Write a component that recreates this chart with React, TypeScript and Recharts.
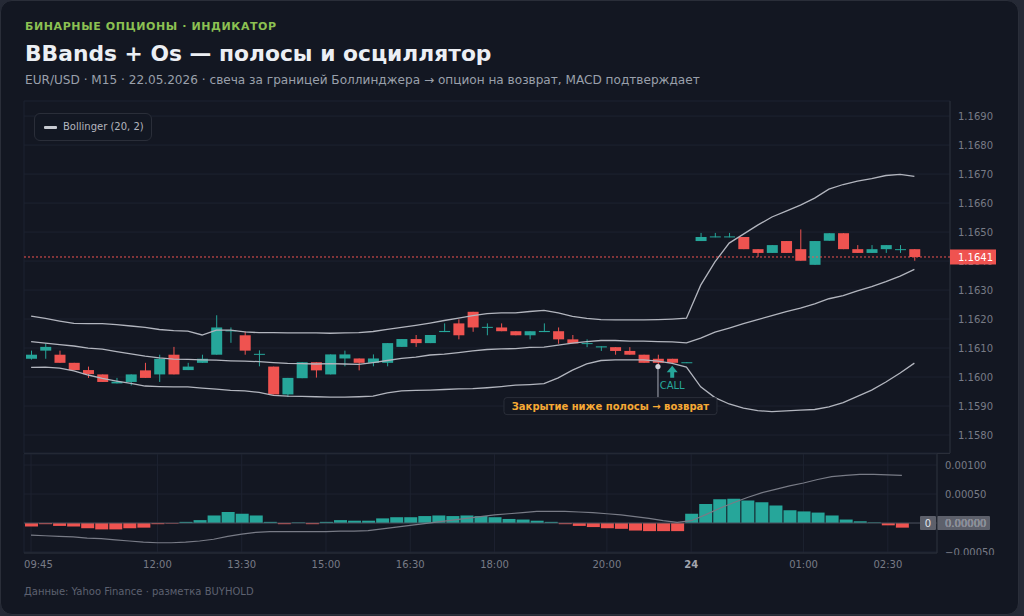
import {
  ComposedChart,
  Bar,
  Line,
  XAxis,
  YAxis,
  CartesianGrid,
  ReferenceLine,
  ReferenceDot,
  Cell,
} from "recharts";

const FONT = "'DejaVu Sans', sans-serif";
const UP = "#26a69a";
const DOWN = "#ef5350";
const GRID = "#1d2230";
const BORDER = "#2a2e39";
const AXIS = "#787b86";
const BAND = "#b2b5be";

// time axis (bar index -> label)
const tickIdx = [0, 9, 15, 21, 27, 33, 41, 47, 55, 61];
const tickLabels = ["09:45", "12:00", "13:30", "15:00", "16:30", "18:00", "20:00", "24", "01:00", "02:30"];

// EUR/USD M15 candles
const open = [
  1.16063, 1.16091, 1.16077, 1.16049, 1.16024, 1.16009, 1.15978, 1.15983, 1.16023, 1.16009,
  1.16077, 1.16024, 1.16049, 1.16077, 1.16158, 1.16144, 1.16078, 1.16036, 1.1594, 1.15996,
  1.16051, 1.16009, 1.16064, 1.16064, 1.16049, 1.16049, 1.16104, 1.16131, 1.16117, 1.16155,
  1.16185, 1.16225, 1.1617, 1.16171, 1.16158, 1.16144, 1.16155, 1.16158, 1.1613, 1.16115,
  1.16102, 1.16103, 1.1609, 1.16077, 1.16063, 1.16063, 1.16048, 1.16469, 1.16482, 1.16482,
  1.16483, 1.16441, 1.16428, 1.16469, 1.16441, 1.16387, 1.1647, 1.16496, 1.16441, 1.16428,
  1.16441, 1.1644, 1.16441,
];
const high = [
  1.16091, 1.16116, 1.16091, 1.16049, 1.16036, 1.16009, 1.15997, 1.16009, 1.16049, 1.16077,
  1.16104, 1.16049, 1.16077, 1.16213, 1.16171, 1.16158, 1.16092, 1.16036, 1.15997, 1.16051,
  1.16051, 1.16078, 1.16091, 1.16064, 1.16078, 1.16117, 1.16131, 1.16145, 1.16145, 1.16185,
  1.16199, 1.16225, 1.16185, 1.16185, 1.16158, 1.16158, 1.16185, 1.16171, 1.16145, 1.1613,
  1.16106, 1.16103, 1.16103, 1.16077, 1.16077, 1.16063, 1.16051, 1.16497, 1.16497, 1.16497,
  1.16483, 1.16441, 1.16455, 1.16469, 1.16509, 1.16469, 1.16496, 1.16496, 1.16455, 1.16455,
  1.16455, 1.16455, 1.16441,
];
const low = [
  1.1606, 1.16063, 1.16049, 1.16024, 1.15997, 1.15983, 1.15978, 1.15971, 1.15997, 1.15983,
  1.16009, 1.16024, 1.16049, 1.16077, 1.16118, 1.16077, 1.16037, 1.1594, 1.15931, 1.15996,
  1.15998, 1.16009, 1.16037, 1.16023, 1.16037, 1.16037, 1.16104, 1.16104, 1.16117, 1.16155,
  1.1613, 1.16156, 1.16144, 1.16158, 1.16144, 1.1613, 1.16155, 1.16115, 1.16116, 1.16103,
  1.1609, 1.16077, 1.16077, 1.16049, 1.16036, 1.16049, 1.16048, 1.16469, 1.16482, 1.16482,
  1.16441, 1.16414, 1.16428, 1.16428, 1.16401, 1.16387, 1.1647, 1.16441, 1.16428, 1.16428,
  1.16428, 1.16428, 1.16401,
];
const close = [
  1.16077, 1.16104, 1.16049, 1.16024, 1.1601, 1.15983, 1.15984, 1.16009, 1.15997, 1.16063,
  1.16009, 1.16036, 1.16063, 1.16171, 1.16161, 1.16091, 1.1608, 1.1594, 1.15997, 1.16051,
  1.16023, 1.16078, 1.16078, 1.16049, 1.16064, 1.16117, 1.16131, 1.16117, 1.16145, 1.16159,
  1.16144, 1.16171, 1.16173, 1.16158, 1.16144, 1.16158, 1.16159, 1.1613, 1.16116, 1.16117,
  1.16106, 1.1609, 1.16077, 1.16049, 1.16049, 1.16049, 1.16051, 1.16483, 1.16485, 1.16485,
  1.16441, 1.16428, 1.16455, 1.16428, 1.16401, 1.16469, 1.16496, 1.16441, 1.16428, 1.16441,
  1.16455, 1.16441, 1.16414,
];

// Bollinger (20, 2)
const bbUpper = [
  1.1621, 1.16202, 1.16193, 1.16185, 1.16184, 1.16184, 1.16181, 1.16176, 1.16171, 1.16164,
  1.1616, 1.16158, 1.16145, 1.16162, 1.16162, 1.16156, 1.16153, 1.16153, 1.16152, 1.16152,
  1.16152, 1.16151, 1.16152, 1.16153, 1.16157, 1.16164, 1.16171, 1.16178, 1.16186, 1.16195,
  1.16203, 1.16212, 1.16219, 1.16221, 1.16221, 1.16226, 1.1623, 1.16221, 1.16209, 1.16202,
  1.16198, 1.16197, 1.16197, 1.16197, 1.16198, 1.162, 1.16203, 1.16317, 1.16397, 1.16462,
  1.16493, 1.16524, 1.16552, 1.16572, 1.16593, 1.16617, 1.16648, 1.16664, 1.16676, 1.16684,
  1.16695, 1.16699, 1.16692,
];
const bbMid = [
  1.16122, 1.16117, 1.16112, 1.16107, 1.161, 1.16096, 1.16088, 1.1608, 1.16072, 1.16066,
  1.16062, 1.16061, 1.16059, 1.16058, 1.16056, 1.16055, 1.16053, 1.1605, 1.16047, 1.16046,
  1.16045, 1.16046, 1.16045, 1.16044, 1.1605, 1.16057, 1.16064, 1.16069, 1.16076, 1.16079,
  1.16084, 1.1609, 1.16095, 1.16097, 1.16098, 1.16102, 1.16103, 1.1611, 1.16117, 1.16122,
  1.16126, 1.16126, 1.16124, 1.16124, 1.16122, 1.16121, 1.16118, 1.16134, 1.16155, 1.16169,
  1.16184, 1.16198, 1.16212, 1.16226, 1.16238, 1.16252, 1.1627, 1.16281, 1.16297, 1.16312,
  1.16329, 1.16348, 1.16371,
];
const bbLower = [
  1.16033, 1.16034, 1.16031, 1.16021, 1.16007, 1.15995, 1.15986, 1.15978, 1.15969, 1.15967,
  1.15966, 1.15966, 1.15962, 1.15958, 1.15954, 1.15952, 1.15947, 1.15937, 1.15934, 1.15933,
  1.15932, 1.15931, 1.15931, 1.15932, 1.15934, 1.15945, 1.15952, 1.15954, 1.15955, 1.15957,
  1.15959, 1.1596, 1.15963, 1.15967, 1.15972, 1.15974, 1.15977, 1.15997, 1.16024, 1.16045,
  1.16057, 1.16059, 1.16059, 1.16059, 1.16055, 1.16047, 1.16034, 1.15966, 1.15929, 1.15907,
  1.15893, 1.15884, 1.15881, 1.15883, 1.15886, 1.15888, 1.15897, 1.15912, 1.15933, 1.15955,
  1.15983, 1.16014, 1.16048,
];

// MACD histogram and line
const macdHist = [
  -0.00006, -0.00002, -0.00005, -0.00006, -0.00009, -0.00011, -0.00011, -0.00009, -0.00008, -0.00002,
  -0.00001, 0.00002, 0.00005, 0.00013, 0.00019, 0.00016, 0.00013, 0.00002, -0.00002, 0.00001,
  -0.00002, 0.00002, 0.00005, 0.00004, 0.00004, 0.00008, 0.0001, 0.0001, 0.00012, 0.00013,
  0.00012, 0.00013, 0.00012, 0.0001, 0.00007, 0.00006, 0.00004, 0.00002, -0.00002, -0.00005,
  -0.00007, -0.00009, -0.0001, -0.00013, -0.00014, -0.00014, -0.00014, 0.00016, 0.00033, 0.00041,
  0.00042, 0.00039, 0.00036, 0.0003, 0.00022, 0.0002, 0.00018, 0.00013, 0.00006, 0.00003,
  0.00001, -0.00004, -0.00008,
];
const macdLine = [
  -0.00021, -0.00022, -0.00023, -0.00024, -0.00026, -0.00027, -0.00029, -0.00031, -0.00033, -0.00034,
  -0.00034, -0.00033, -0.00031, -0.00028, -0.00023, -0.00019, -0.00016, -0.00015, -0.00015, -0.00015,
  -0.00015, -0.00015, -0.00014, -0.00014, -0.00013, -0.0001, -0.00007, -0.00004, -0.00001, 0.00002,
  0.00005, 0.00008, 0.00011, 0.00014, 0.00016, 0.00018, 0.0002, 0.0002, 0.0002, 0.00019,
  0.00018, 0.00016, 0.00014, 0.00011, 0.00008, 0.00004, 0.00001, 0.00004, 0.00014, 0.00025,
  0.00035, 0.00044, 0.00052, 0.00058, 0.00064, 0.00069, 0.00075, 0.0008, 0.00082, 0.00084,
  0.00084, 0.00083, 0.00082,
];

const priceTicks = [1.158, 1.159, 1.16, 1.161, 1.162, 1.163, 1.164, 1.165, 1.166, 1.167, 1.168, 1.169];
const priceDomain = [1.15738, 1.16952];
const macdTicks = [-0.0005, 0, 0.0005, 0.001];

const signalIdx = 44; // close below the band
const callIdx = 45;
const emptySlots = 2; // right padding of the time scale
const lastClose = close[close.length - 1];

const rows = Array.from({ length: open.length + emptySlots }, (_, i) =>
  i < open.length
    ? {
        i,
        range: [low[i], high[i]],
        o: open[i],
        h: high[i],
        l: low[i],
        c: close[i],
        upper: bbUpper[i],
        mid: bbMid[i],
        lower: bbLower[i],
        hist: macdHist[i],
        macd: macdLine[i],
      }
    : { i }
);

const mainMargin = { top: 10, right: 0, bottom: 8, left: 23 };

function Candle(props: any) {
  const { x, y, width, height, payload } = props;
  if (payload == null || payload.o == null) return null;
  const { o, h, l, c } = payload;
  const k = h > l ? height / (h - l) : 0;
  const py = (v: number) => y + (h - v) * k;
  const color = c >= o ? UP : DOWN;
  const top = py(Math.max(o, c));
  const bot = py(Math.min(o, c));
  const cx = x + width / 2;
  return (
    <g>
      <line x1={cx} x2={cx} y1={y} y2={y + height} stroke={color} strokeWidth={1} />
      <rect x={x} y={top} width={width} height={Math.max(1, bot - top)} fill={color} />
    </g>
  );
}

function PriceTag(props: any) {
  const vb = props.viewBox;
  if (!vb) return null;
  const x = vb.x + vb.width;
  return (
    <g>
      <rect x={x} y={vb.y - 7.5} width={46} height={15} fill={DOWN} />
      <text x={x + 8} y={vb.y} dy="0.36em" fill="#ffffff" fontSize={10} fontFamily={FONT}>
        {lastClose.toFixed(4)}
      </text>
    </g>
  );
}

function SignalMark(props: any) {
  const { cx, cy } = props;
  return (
    <g>
      <line x1={cx} x2={cx} y1={cy} y2={cy + 31} stroke={AXIS} strokeWidth={1.5} />
      <circle cx={cx} cy={cy} r={2.6} fill="#d1d4dc" />
      <rect x={cx - 154} y={cy + 31} width={213} height={17} rx={3} fill="#131722" stroke={BORDER} />
      <text
        x={cx - 47.5}
        y={cy + 39.5}
        dy="0.36em"
        textAnchor="middle"
        fill="#f6a935"
        fontSize={10}
        fontWeight={700}
        fontFamily={FONT}
      >
        Закрытие ниже полосы → возврат
      </text>
    </g>
  );
}

function CallArrow(props: any) {
  const { cx, cy } = props;
  return (
    <g>
      <path
        d={`M${cx},${cy + 3} L${cx + 5.5},${cy + 9.5} L${cx + 2},${cy + 9.5} L${cx + 2},${cy + 15} L${cx - 2},${cy + 15} L${cx - 2},${cy + 9.5} L${cx - 5.5},${cy + 9.5} Z`}
        fill={UP}
      />
      <text x={cx} y={cy + 22.5} dy="0.36em" textAnchor="middle" fill={UP} fontSize={10} fontFamily={FONT}>
        CALL
      </text>
    </g>
  );
}

function TimeTick(props: any) {
  const { x, y, payload } = props;
  const k = tickIdx.indexOf(payload.value);
  const label = tickLabels[k];
  const first = k === 0;
  const bold = label === "24";
  return (
    <text
      x={first ? x - 7 : x}
      y={y}
      dy="0.71em"
      textAnchor={first ? "start" : "middle"}
      fill={bold ? "#a3a6af" : AXIS}
      fontWeight={bold ? 700 : 400}
      fontSize={10}
      fontFamily={FONT}
    >
      {label}
    </text>
  );
}

function fmtMacd(v: number) {
  return (v < 0 ? "\u2212" : "") + Math.abs(v).toFixed(5);
}

function MacdTick(props: any) {
  const { x, y, payload } = props;
  const text = (
    <text x={x} y={y} dy="0.36em" fill={AXIS} fontSize={10} fontFamily={FONT}>
      {fmtMacd(payload.value)}
    </text>
  );
  if (payload.value >= 0) return text;
  return (
    <g>
      <defs>
        <clipPath id="macdNegClip">
          <rect x={x - 4} y={y - 12} width={90} height={15} />
        </clipPath>
      </defs>
      <g clipPath="url(#macdNegClip)">{text}</g>
    </g>
  );
}

function ZeroTag(props: any) {
  const vb = props.viewBox;
  if (!vb) return null;
  const right = vb.x + vb.width;
  return (
    <g fontFamily={FONT} fontSize={10}>
      <rect x={right - 17} y={vb.y - 7} width={16} height={14} rx={1} fill="#5d606b" />
      <text x={right - 9} y={vb.y} dy="0.36em" textAnchor="middle" fill="#e0e3eb">
        0
      </text>
      <rect x={right} y={vb.y - 7} width={53} height={14} rx={1} fill="#5d606b" />
      <text x={right + 8} y={vb.y} dy="0.36em" fill="#e0e3eb">
        {fmtMacd(0)}
      </text>
    </g>
  );
}

export default function App() {
  return (
    <div
      style={{
        position: "absolute",
        left: 0,
        top: 0,
        width: 1024,
        height: 616,
        background: "#252935",
        fontFamily: FONT,
      }}
    >
      <div
        style={{
          position: "absolute",
          left: 0,
          top: 0,
          width: 1017,
          height: 613,
          background: "#131722",
          border: `1px solid ${BORDER}`,
          borderRadius: 12,
          overflow: "hidden",
        }}
      >
        <div
          style={{
            position: "absolute",
            left: 24,
            top: 19,
            fontSize: 11,
            lineHeight: "14px",
            fontWeight: 700,
            letterSpacing: 0.6,
            color: "#8cc152",
          }}
        >
          БИНАРНЫЕ ОПЦИОНЫ · ИНДИКАТОР
        </div>
        <div
          style={{
            position: "absolute",
            left: 24,
            top: 39,
            fontSize: 21.8,
            lineHeight: "28px",
            fontWeight: 700,
            color: "#eceff4",
          }}
        >
          BBands + Os — полосы и осциллятор
        </div>
        <div
          style={{
            position: "absolute",
            left: 24,
            top: 71,
            fontSize: 12.1,
            lineHeight: "16px",
            color: "#9aa0ab",
            whiteSpace: "nowrap",
          }}
        >
          EUR/USD · M15 · 22.05.2026 · свеча за границей Боллинджера → опцион на возврат, MACD подтверждает
        </div>

        <ComposedChart
          width={1024}
          height={370}
          data={rows}
          margin={mainMargin}
          style={{ position: "absolute", left: 0, top: 90 }}
        >
          <CartesianGrid stroke={GRID} />
          <XAxis
            dataKey="i"
            type="category"
            ticks={tickIdx}
            interval={0}
            tick={false}
            tickLine={false}
            axisLine={false}
            height={0}
          />
          <YAxis
            orientation="right"
            width={75}
            domain={priceDomain}
            allowDataOverflow
            ticks={priceTicks}
            tickFormatter={(v: number) => v.toFixed(4)}
            tick={{ fill: AXIS, fontSize: 10, fontFamily: FONT }}
            tickLine={false}
            axisLine={{ stroke: BORDER }}
          />
          <Line dataKey="upper" stroke={BAND} strokeWidth={1.3} dot={false} activeDot={false} isAnimationActive={false} />
          <Line dataKey="mid" stroke={BAND} strokeWidth={1.3} dot={false} activeDot={false} isAnimationActive={false} />
          <Line dataKey="lower" stroke={BAND} strokeWidth={1.3} dot={false} activeDot={false} isAnimationActive={false} />
          <Bar dataKey="range" barSize={11} shape={<Candle />} isAnimationActive={false} />
          <ReferenceDot x={signalIdx} y={low[signalIdx]} shape={<SignalMark />} />
          <ReferenceDot x={callIdx} y={low[callIdx]} shape={<CallArrow />} />
        </ComposedChart>

        {/* last price line + tag, layered above the price axis */}
        <ComposedChart
          width={1024}
          height={370}
          data={rows}
          margin={mainMargin}
          style={{ position: "absolute", left: 0, top: 90 }}
        >
          <XAxis dataKey="i" type="category" tick={false} tickLine={false} axisLine={false} height={0} />
          <YAxis
            orientation="right"
            width={75}
            domain={priceDomain}
            allowDataOverflow
            tick={false}
            tickLine={false}
            axisLine={false}
          />
          <ReferenceLine y={lastClose} stroke={DOWN} strokeDasharray="2 2" label={<PriceTag />} />
        </ComposedChart>

        <div
          style={{
            position: "absolute",
            left: 33,
            top: 112,
            width: 116,
            height: 26,
            border: `1px solid ${BORDER}`,
            borderRadius: 6,
            background: "rgba(19,23,34,0.9)",
          }}
        >
          <div style={{ position: "absolute", left: 9, top: 11.5, width: 13, height: 3, borderRadius: 1, background: "#c7cad1" }} />
          <div
            style={{
              position: "absolute",
              left: 28,
              top: 6,
              fontSize: 10,
              lineHeight: "14px",
              color: "#b2b5be",
              whiteSpace: "nowrap",
            }}
          >
            Bollinger (20, 2)
          </div>
        </div>

        <div style={{ position: "absolute", left: 23, top: 452, width: 926, height: 1, background: BORDER }} />

        <ComposedChart
          width={1024}
          height={136}
          data={rows}
          margin={{ top: 13, right: 0, bottom: 0, left: 23 }}
          style={{ position: "absolute", left: 0, top: 440 }}
        >
          <CartesianGrid stroke={GRID} />
          <XAxis
            dataKey="i"
            type="category"
            ticks={tickIdx}
            interval={0}
            tick={<TimeTick />}
            tickLine={false}
            axisLine={{ stroke: BORDER }}
            height={24}
          />
          <YAxis
            orientation="right"
            width={88}
            domain={[-0.000517, 0.00119]}
            allowDataOverflow
            ticks={macdTicks}
            tick={<MacdTick />}
            tickLine={false}
            axisLine={{ stroke: BORDER }}
          />
          <ReferenceLine y={0} stroke="#4a4e5a" label={<ZeroTag />} />
          <Bar dataKey="hist" barSize={13} isAnimationActive={false}>
            {rows.map((r: any) => (
              <Cell key={r.i} fill={(r.hist ?? 0) >= 0 ? UP : DOWN} />
            ))}
          </Bar>
          <Line dataKey="macd" stroke={AXIS} strokeWidth={1.2} dot={false} activeDot={false} isAnimationActive={false} />
        </ComposedChart>

        <div
          style={{
            position: "absolute",
            left: 23,
            top: 584,
            fontSize: 10,
            lineHeight: "14px",
            color: "#5d6170",
          }}
        >
          Данные: Yahoo Finance · разметка BUYHOLD
        </div>
      </div>
    </div>
  );
}
